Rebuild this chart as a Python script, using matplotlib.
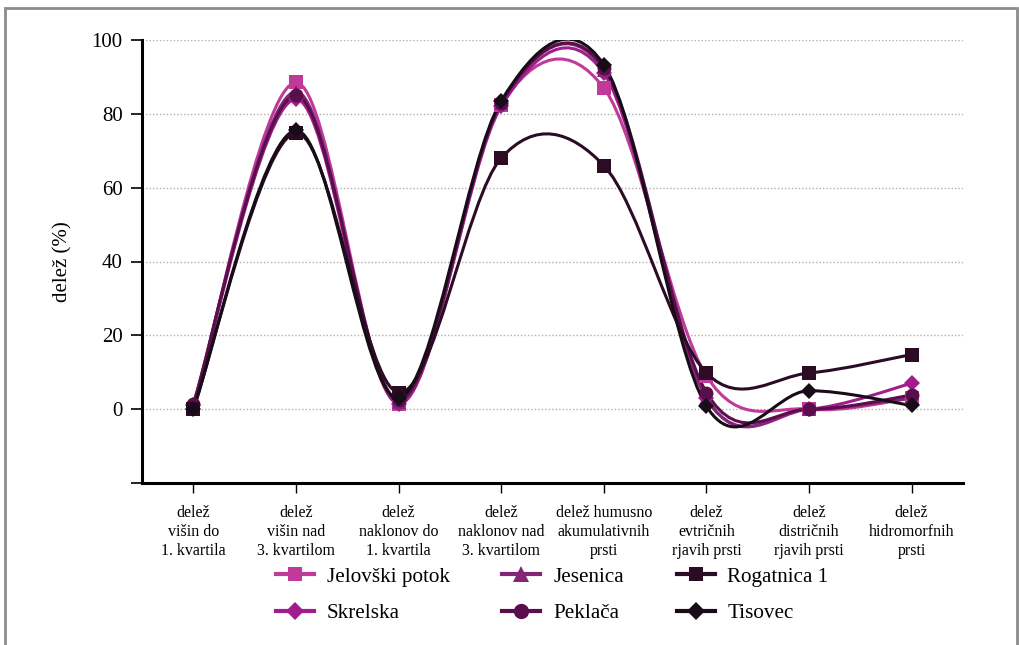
import matplotlib
matplotlib.use("Agg")
import matplotlib.pyplot as plt
from matplotlib.path import Path
from matplotlib.patches import PathPatch, Rectangle
from matplotlib.lines import Line2D

plt.rcParams['font.family'] = ['Liberation Serif', 'DejaVu Serif']

categories = [
    "delež\nvišin do\n1. kvartila",
    "delež\nvišin nad\n3. kvartilom",
    "delež\nnaklonov do\n1. kvartila",
    "delež\nnaklonov nad\n3. kvartilom",
    "delež humusno\nakumulativnih\nprsti",
    "delež\nevtričnih\nrjavih prsti",
    "delež\ndistričnih\nrjavih prsti",
    "delež\nhidromorfnih\nprsti",
]

jelovski_potok = [0, 88.5, 1.5, 82.5, 87, 9, 0, 3]
skrelska = [1, 84, 1.5, 82, 91, 3, 0, 7]
jesenica = [1, 86, 2, 83, 92, 3, 0, 3]
peklaca = [1.5, 85, 2.5, 83, 92.5, 4.5, 0, 3.8]
rogatnica_1 = [0, 74.8, 4.5, 68, 66, 9.8, 9.8, 14.8]
tisovec = [0, 75.5, 3, 83.5, 93.3, 0.8, 5, 1]

series = [
    ("Jelovški potok", jelovski_potok, "#c13a9a", "s", 9.5),
    ("Skrelska", skrelska, "#a31c8c", "D", 8.5),
    ("Jesenica", jesenica, "#832677", "^", 10),
    ("Peklača", peklaca, "#5a0e4b", "o", 10),
    ("Rogatnica 1", rogatnica_1, "#2c0c25", "s", 9.5),
    ("Tisovec", tisovec, "#170c17", "D", 8.5),
]

y_ticks = [-20, 0, 20, 40, 60, 80, 100]
y_tick_labels = ["", "0", "20", "40", "60", "80", "100"]


def smooth_path(xs, ys):
    """Cubic Bezier path through the points (Catmull-Rom style smoothing)."""
    pts = list(zip(xs, ys))
    n = len(pts)
    verts = [pts[0]]
    codes = [Path.MOVETO]
    for i in range(n - 1):
        p0 = pts[i - 1] if i > 0 else pts[i]
        p1 = pts[i]
        p2 = pts[i + 1]
        p3 = pts[i + 2] if i + 2 < n else pts[i + 1]
        c1 = (p1[0] + (p2[0] - p0[0]) / 6.0, p1[1] + (p2[1] - p0[1]) / 6.0)
        c2 = (p2[0] - (p3[0] - p1[0]) / 6.0, p2[1] - (p3[1] - p1[1]) / 6.0)
        verts += [c1, c2, p2]
        codes += [Path.CURVE4] * 3
    return Path(verts, codes)


fig = plt.figure(figsize=(10.2, 6.45), dpi=100)
ax = fig.add_axes([142 / 1020, 1 - 483 / 645, (963 - 142) / 1020, (483 - 40) / 645])

x = list(range(len(categories)))
handles = []
for name, vals, color, marker, ms in series:
    patch = PathPatch(smooth_path(x, vals), facecolor="none", edgecolor=color,
                      lw=2.2, zorder=3, capstyle="round", joinstyle="round")
    ax.add_patch(patch)
    ax.plot(x, vals, linestyle="none", marker=marker, markersize=ms,
            color=color, markeredgewidth=0, zorder=4, clip_on=False)
    handles.append(Line2D([], [], color=color, lw=3.0, marker=marker,
                          markersize=ms + 1, markeredgewidth=0))

ax.set_xlim(-0.5, len(categories) - 0.5)
ax.set_ylim(-20, 100)
ax.set_yticks(y_ticks)
ax.set_yticklabels(y_tick_labels, fontsize=15)
ax.set_xticks(x)
ax.set_xticklabels(categories, fontsize=11.5, linespacing=1.25)
ax.tick_params(axis="y", direction="out", length=8, width=1.2, pad=6)
ax.tick_params(axis="x", direction="out", length=7, width=1.0, pad=9)

for yv in y_ticks[1:]:
    ax.axhline(yv, color="#b0b0b0", lw=1.0, ls=(0, (1, 1.5)), zorder=1)

for s in ("top", "right"):
    ax.spines[s].set_visible(False)
ax.spines["left"].set_linewidth(2.2)
ax.spines["bottom"].set_linewidth(2.2)
ax.spines["bottom"].set_bounds(-0.5, len(categories) - 0.5)

ax.set_ylabel("delež (%)", fontsize=15, labelpad=14)

leg = fig.legend(handles, [s[0] for s in series], ncol=3, loc="upper left",
                 bbox_to_anchor=(257 / 1020, 1 - 548 / 645), frameon=False,
                 fontsize=15.2, handlelength=1.8, handletextpad=0.6,
                 columnspacing=2.5, labelspacing=0.8)

# Outer frame of the figure panel
fig.patches.append(Rectangle((5 / 1020, -0.1), (1017 - 5) / 1020, 1.1 - 8 / 645,
                             transform=fig.transFigure, fill=False,
                             edgecolor="#8c8c8c", lw=2.0))

fig.savefig("out.png", dpi=100)
